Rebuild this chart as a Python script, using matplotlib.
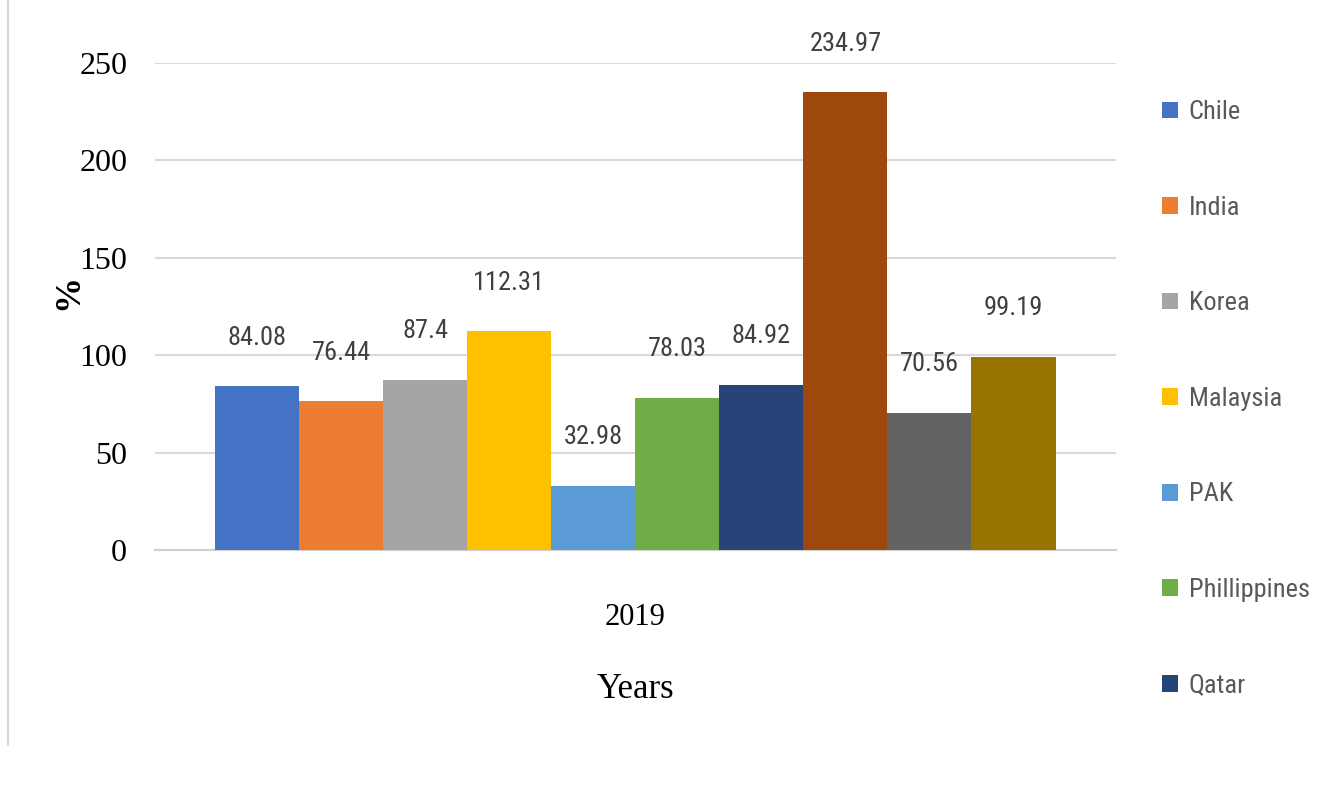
import matplotlib
matplotlib.use('Agg')
import matplotlib.pyplot as plt
from matplotlib.patches import Patch
from matplotlib.lines import Line2D

# 2019 values per country (%)
countries = ['Chile', 'India', 'Korea', 'Malaysia', 'PAK', 'Phillippines', 'Qatar',
             'Series 8', 'Series 9', 'Series 10']
values = [84.08, 76.44, 87.4, 112.31, 32.98, 78.03, 84.92, 234.97, 70.56, 99.19]
colors = ['#4472C4', '#ED7D31', '#A5A5A5', '#FFC000', '#5B9BD5', '#70AD47', '#264478',
          '#9E480E', '#636363', '#997300']
year_label = '2019'
y_ticks = [0, 50, 100, 150, 200, 250]
legend_count = 7

serif = 'Liberation Serif'
narrow = 'Roboto Condensed'

fig = plt.figure(figsize=(13.36, 7.88), dpi=100)
ax = fig.add_axes([0.116, 0.302, 0.719, 0.618])

n = len(values)
positions = [i - (n - 1) / 2 for i in range(n)]
bars = ax.bar(positions, values, width=1.0, color=colors, zorder=3)

# value labels above each bar
for x, v in zip(positions, values):
    ax.annotate(f'{v:g}', xy=(x, v), xytext=(0, 35), textcoords='offset points',
                ha='center', va='center', fontsize=19, family=narrow,
                color='#404040', annotation_clip=False)

ax.set_xlim(-5.714, 5.714)
ax.set_ylim(0, 250)
ax.set_yticks(y_ticks)
ax.set_yticklabels([str(t) for t in y_ticks], family=serif, fontsize=23)
ax.set_xticks([0])
ax.set_xticklabels([year_label], family=serif, fontsize=22)
ax.tick_params(axis='y', length=0, pad=20)
ax.tick_params(axis='x', length=0, pad=38)

ax.grid(axis='y', color='#d9d9d9', linewidth=1.5, zorder=0)
for side in ['top', 'right', 'left']:
    ax.spines[side].set_visible(False)
ax.spines['bottom'].set_color('#d0d0d0')
ax.spines['bottom'].set_linewidth(1.5)

ax.set_ylabel('%', family=serif, fontsize=26, fontweight='bold')
ax.yaxis.set_label_coords(-0.073, 0.53)
ax.set_xlabel('Years', family=serif, fontsize=25, labelpad=30)

handles = [Patch(facecolor=c) for c in colors[:legend_count]]
fig.legend(handles, countries[:legend_count], loc='upper left',
           bbox_to_anchor=(0.862, 0.886), frameon=False,
           prop={'family': narrow, 'size': 19}, labelcolor='#595959',
           handlelength=0.6, handleheight=0.6, handletextpad=0.4,
           labelspacing=2.71, borderaxespad=0)

# thin frame line along the left edge
fig.add_artist(Line2D([0.006, 0.006], [0.055, 1.0], color='#d9d9d9', linewidth=1.5))

fig.savefig('out.png', dpi=100, facecolor='white')
